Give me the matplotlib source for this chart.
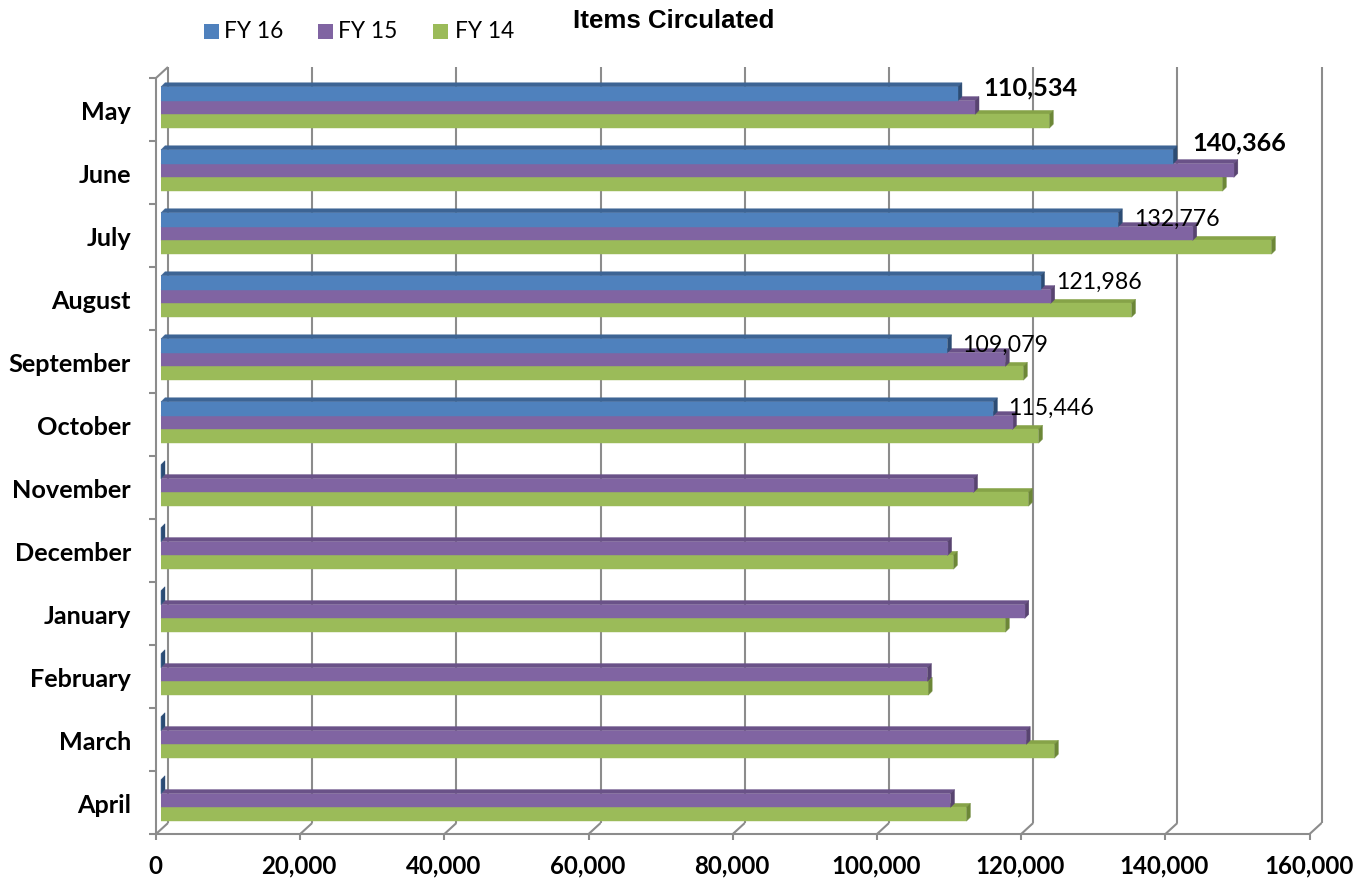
import matplotlib
matplotlib.use("Agg")
import matplotlib.pyplot as plt
from matplotlib.patches import Polygon, Rectangle
from matplotlib.lines import Line2D

# ---------------- data ----------------
months = ["May", "June", "July", "August", "September", "October",
          "November", "December", "January", "February", "March", "April"]
series_names = ["FY 16", "FY 15", "FY 14"]
fy16 = [110534, 140366, 132776, 121986, 109079, 115446, 0, 0, 0, 0, 0, 0]
fy15 = [112900, 148800, 143100, 123400, 117100, 118100,
        112700, 109100, 119800, 106300, 120000, 109500]
fy14 = [123200, 147200, 154000, 134600, 119600, 121700,
        120300, 109900, 117100, 106400, 123900, 111700]
x_ticks = [0, 20000, 40000, 60000, 80000, 100000, 120000, 140000, 160000]
x_tick_labels = ["0", "20,000", "40,000", "60,000", "80,000", "100,000",
                 "120,000", "140,000", "160,000"]
labelled = [True, True, True, True, True, True, False, False, False, False, False, False]
bold_label = [True, True, False, False, False, False, False, False, False, False, False, False]

# ---------------- style ----------------
W, H = 1365, 881
front_col = ["#4F81BD", "#8064A2", "#9BBB59"]
top_col = ["#3D6494", "#6A5288", "#86A348"]
side_col = ["#2C4C74", "#584470", "#6C8737"]
grid_col = "#8C8C8C"

fig = plt.figure(figsize=(W / 100, H / 100), dpi=100)
ax_left, ax_right = 161, 1314.6
ax_top, ax_bottom = 76, 832
ax = fig.add_axes([ax_left / W, (H - ax_bottom) / H,
                   (ax_right - ax_left) / W, (ax_bottom - ax_top) / H])
ax.set_xlim(0, 160000)
ax.set_ylim(12, 0)
ax.axis("off")

PX = 160000 / (ax_right - ax_left)   # data units per pixel (x)
ROW = 12 / (ax_bottom - ax_top)      # rows per pixel (y)

# plane offsets relative to the bar plane (pixels)
fdx, fdy = -5, 2      # front plane
bdx, bdy = 7, -9      # back wall
ddx, ddy = 4, 4       # bar depth

lw = 1.5
kw = dict(color=grid_col, lw=lw, clip_on=False, solid_capstyle="butt")

# back gridlines
for v in x_ticks:
    ax.add_line(Line2D([v + bdx * PX, v + bdx * PX],
                       [0 + bdy * ROW, 12 + bdy * ROW], zorder=1, **kw))
    # floor diagonals
    ax.add_line(Line2D([v + fdx * PX, v + bdx * PX],
                       [12 + fdy * ROW, 12 + bdy * ROW], zorder=1, **kw))
    # bottom tick marks
    ax.add_line(Line2D([v + fdx * PX, v + fdx * PX],
                       [12 + fdy * ROW, 12 + (fdy + 6) * ROW], zorder=1, **kw))

# front floor line and left axis
ax.add_line(Line2D([fdx * PX, 160000 + fdx * PX], [12 + fdy * ROW, 12 + fdy * ROW], zorder=1, **kw))
ax.add_line(Line2D([fdx * PX, fdx * PX], [0 + fdy * ROW, 12 + fdy * ROW], zorder=1, **kw))
ax.add_line(Line2D([fdx * PX, bdx * PX], [0 + fdy * ROW, 0 + bdy * ROW], zorder=1, **kw))
for k in range(13):
    ax.add_line(Line2D([(fdx - 7) * PX, fdx * PX], [k + fdy * ROW, k + fdy * ROW], zorder=1, **kw))

# bars
h = 13.8 * ROW
all_series = [fy16, fy15, fy14]
offsets = [-h, 0, h]
zbase = [5, 4, 3]
for s, vals in enumerate(all_series):
    ys = [i + 0.5 + offsets[s] for i in range(len(months))]
    ax.barh(ys, vals, height=h, left=0, color=front_col[s], edgecolor=front_col[s],
            linewidth=0.3, zorder=zbase[s] + 0.2)
    for y, v in zip(ys, vals):
        y0, y1 = y - h / 2, y + h / 2
        top = Polygon([(0, y0), (v, y0), (v + ddx * PX, y0 - ddy * ROW), (ddx * PX, y0 - ddy * ROW)],
                      closed=True, facecolor=top_col[s], edgecolor=top_col[s], lw=0.3,
                      zorder=zbase[s], clip_on=False)
        side = Polygon([(v, y0), (v, y1), (v + ddx * PX, y1 - ddy * ROW), (v + ddx * PX, y0 - ddy * ROW)],
                       closed=True, facecolor=side_col[s], edgecolor=side_col[s], lw=0.3,
                       zorder=zbase[s] + 0.1, clip_on=False)
        ax.add_patch(top)
        ax.add_patch(side)

# data labels for FY 16
lab_dx = [25.5, 19, 15.5, 15.5, 15, 15]
lab_dy = [-5.4, -13.4, 0, 0, 0, 0]
for i, v in enumerate(fy16):
    if not labelled[i]:
        continue
    yb = i + 0.5 + offsets[0]
    if bold_label[i]:
        ax.text(v + lab_dx[i] * PX, yb + lab_dy[i] * ROW, f"{v:,}", fontfamily="Lato",
                fontweight="bold", fontsize=18.2, ha="left", va="center", zorder=10)
    else:
        ax.text(v + lab_dx[i] * PX, yb + lab_dy[i] * ROW, f"{v:,}", fontfamily="Lato",
                fontsize=16.7, ha="left", va="center", zorder=10)

# category labels
for i, m in enumerate(months):
    ax.text((131 - ax_left) * PX, i + 0.5 + 5 * ROW, m, fontfamily="Lato", fontweight="bold",
            fontsize=18.2, ha="right", va="center", clip_on=False)

# x tick labels
for v, t in zip(x_ticks, x_tick_labels):
    ax.text(v + (fdx - 1) * PX, 12 + 34 * ROW, t, fontfamily="Lato", fontweight="bold",
            fontsize=17.3, ha="center", va="center", clip_on=False)

# title
fig.text(674 / W, 1 - 21 / H, "Items Circulated", fontfamily="Liberation Sans",
         fontweight="bold", fontsize=18.6, ha="center", va="center")

# legend
leg_sq_x = [204, 318, 433]
leg_tx_x = [223.5, 338, 455]
for s in range(3):
    fig.add_artist(Rectangle((leg_sq_x[s] / W, 1 - 39 / H), 14.5 / W, 15 / H,
                             transform=fig.transFigure, facecolor=front_col[s], edgecolor="none"))
    fig.text(leg_tx_x[s] / W, 1 - 31.5 / H, series_names[s], fontfamily="Lato",
             fontsize=16.3, ha="left", va="center")

fig.savefig("out.png", dpi=100)
